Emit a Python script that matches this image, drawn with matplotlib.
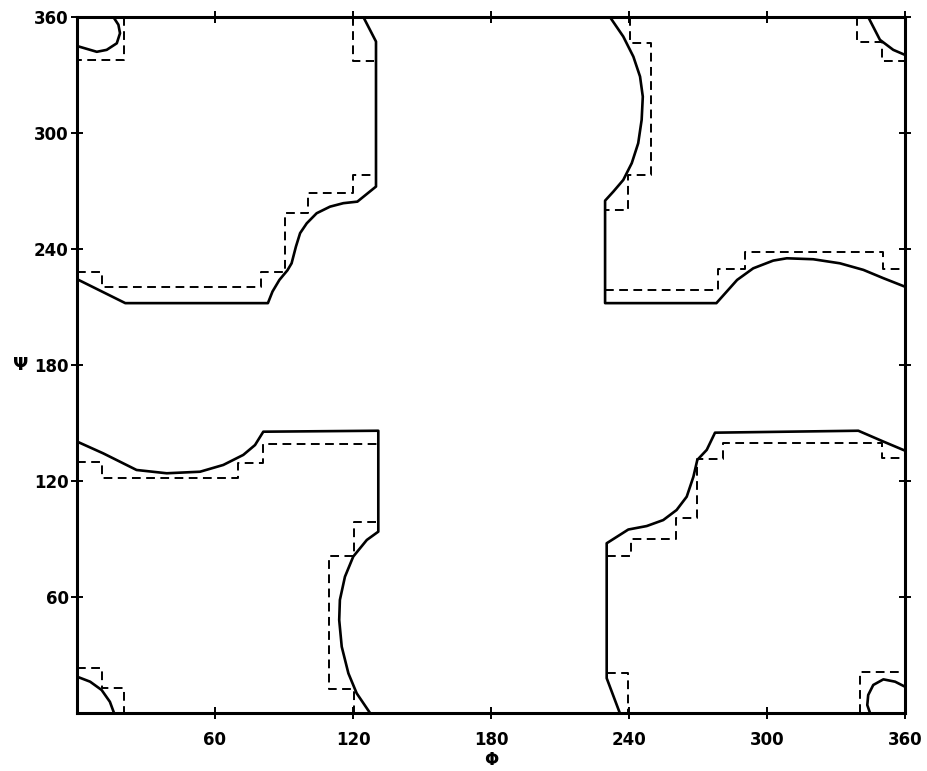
import matplotlib
matplotlib.use("Agg")
import matplotlib.pyplot as plt

# ---------------- data (phi, psi in degrees) ----------------
# solid contours
tl_corner_phi = [0, 8.6, 12.9, 17.3, 18.7, 18, 15.8]
tl_corner_psi = [345, 342, 343, 346.4, 351.6, 356, 360]

tl_main_phi = [0, 21, 83, 85, 88, 91.5, 93.3, 95.2, 97, 99.9, 104.2, 110, 115.8, 121.9, 130, 130, 124.5]
tl_main_psi = [224.4, 212, 212, 218, 224, 229, 232.6, 241.3, 248.2, 253.3, 258.5, 261.9, 263.7, 264.5, 272.3, 347.3, 360]

tr_main_phi = [231.7, 237.5, 241.9, 244.8, 246, 245.5, 244, 241.2, 237.5, 233.2, 229.6, 229.6,
               278, 281, 284, 287, 294, 302.7, 308.6, 320.1, 331.7, 341.9, 350.6, 360]
tr_main_psi = [360, 349.9, 339.5, 329.2, 318.8, 306.8, 294.7, 284.4, 275.7, 269.7, 265, 212,
               212, 216, 220, 224, 230, 234, 235.2, 234.7, 232.6, 229.2, 224.9, 220.5]

tr_corner_phi = [344, 349.1, 354.9, 360]
tr_corner_psi = [360, 348.2, 343, 340.4]

bl_main_phi = [0, 11.4, 25.9, 39, 53.5, 63.6, 72.3, 77.4, 81, 131, 131, 126, 120.1, 116.5,
               114.3, 114, 115.1, 118, 121.6, 127.4]
bl_main_psi = [140.4, 134.3, 125.7, 124, 124.8, 128.3, 133.5, 138.6, 145.5, 146, 93.8, 89.5,
               80.9, 70.5, 58.5, 48.1, 34.3, 20.5, 10.2, 0]

bl_corner_phi = [0, 5.7, 10.7, 14.3, 16.1]
bl_corner_psi = [18.8, 16.2, 11.9, 5.8, 0]

br_main_phi = [236, 230.3, 230.3, 239.7, 247.7, 254.9, 260.7, 265.1, 268, 269.7, 273.8, 277.4,
               339.7, 350.6, 360]
br_main_psi = [0, 18, 87.8, 94.9, 96.7, 99.8, 105, 111.9, 122.2, 130.9, 136.1, 145,
               146, 140.4, 135.7]

br_corner_phi = [360, 355.7, 350.6, 346.2, 344, 343.6, 344.8]
br_corner_psi = [13.6, 16.2, 17.4, 14.5, 9.3, 4.1, 0]

# dashed step boundaries
d_tl_corner_phi = [20.4, 20.4, 0]
d_tl_corner_psi = [360, 338, 338]

d_tl_main_phi = [0, 10.7, 10.7, 80, 80, 90.4, 90.4, 100.6, 100.6, 120.1, 120.1, 130]
d_tl_main_psi = [228.3, 228.3, 220.5, 220.5, 228.3, 228.3, 258.5, 258.5, 268.8, 268.8, 278.3, 278.3]

d_tl_top_phi = [120.1, 120.1, 129]
d_tl_top_psi = [360, 337, 337]

d_tr_left_phi = [240.4, 240.4, 249.4, 249.4, 239.7, 239.7, 229.6]
d_tr_left_psi = [360, 346.4, 346.4, 278.3, 278.3, 260.2, 260.2]

d_tr_bottom_phi = [229.6, 278.5, 278.5, 290.4, 290.4, 350.6, 350.6, 360]
d_tr_bottom_psi = [219, 219, 229.5, 229.5, 238.7, 238.7, 229.5, 229.5]

d_tr_corner_phi = [339, 339, 349.9, 349.9, 360]
d_tr_corner_psi = [360, 347.3, 347.3, 337, 337]

d_bl_top_phi = [0, 10.7, 10.7, 70.1, 70.1, 80.7, 80.7, 131]
d_bl_top_psi = [130, 130, 121.4, 121.4, 129.5, 129.5, 139.3, 139.3]

d_bl_right_phi = [130, 120.4, 120.4, 109.7, 109.7, 120.4, 120.4]
d_bl_right_psi = [99, 99, 81.2, 81.2, 12.3, 12.3, 0]

d_bl_corner_phi = [0, 11, 11, 20.4, 20.4]
d_bl_corner_psi = [23.1, 23.1, 12.8, 12.8, 0]

d_br_main_phi = [230.3, 240.7, 240.7, 260.4, 260.4, 269.7, 269.7, 280.7, 280.7, 349.9, 349.9, 360]
d_br_main_psi = [81.2, 81.2, 89.8, 89.8, 100.7, 100.7, 131.2, 131.2, 139.8, 139.8, 131.7, 131.7]

d_br_bottom_phi = [230.3, 239.7, 239.7]
d_br_bottom_psi = [20.9, 20.9, 0]

d_br_corner_phi = [340.4, 340.4, 360]
d_br_corner_psi = [0, 21.4, 21.4]

x_ticks = [60, 120, 180, 240, 300, 360]
y_ticks = [60, 120, 180, 240, 300, 360]
x_tick_labels = ["60", "120", "180", "240", "300", "360"]
y_tick_labels = ["60", "120", "180", "240", "300", "360"]

solid_curves = [
    (tl_corner_phi, tl_corner_psi), (tl_main_phi, tl_main_psi),
    (tr_main_phi, tr_main_psi), (tr_corner_phi, tr_corner_psi),
    (bl_main_phi, bl_main_psi), (bl_corner_phi, bl_corner_psi),
    (br_main_phi, br_main_psi), (br_corner_phi, br_corner_psi),
]
dashed_curves = [
    (d_tl_corner_phi, d_tl_corner_psi), (d_tl_main_phi, d_tl_main_psi),
    (d_tl_top_phi, d_tl_top_psi), (d_tr_left_phi, d_tr_left_psi),
    (d_tr_bottom_phi, d_tr_bottom_psi), (d_tr_corner_phi, d_tr_corner_psi),
    (d_bl_top_phi, d_bl_top_psi), (d_bl_right_phi, d_bl_right_psi),
    (d_bl_corner_phi, d_bl_corner_psi), (d_br_main_phi, d_br_main_psi),
    (d_br_bottom_phi, d_br_bottom_psi), (d_br_corner_phi, d_br_corner_psi),
]

# ---------------- figure ----------------
fig = plt.figure(figsize=(9.28, 7.71), dpi=100)
ax = fig.add_axes([77 / 928, 58 / 771, 828 / 928, 696 / 771])

for px, py in solid_curves:
    ax.plot(px, py, color="black", lw=1.9, solid_joinstyle="round", solid_capstyle="round")
for px, py in dashed_curves:
    ax.plot(px, py, color="black", lw=1.4, linestyle=(0, (4.5, 2.8)))

ax.set_xlim(0, 360)
ax.set_ylim(0, 360)

ax.set_xticks(x_ticks)
ax.set_xticklabels(x_tick_labels)
ax.set_yticks(y_ticks)
ax.set_yticklabels(y_tick_labels)

ax.tick_params(axis="both", which="major", direction="inout", length=8, width=1.4,
               top=True, right=True, labelsize=12)
ax.tick_params(axis="x", pad=9)
ax.tick_params(axis="y", pad=2)
for lab in ax.get_xticklabels() + ax.get_yticklabels():
    lab.set_fontweight("bold")

for sp in ax.spines.values():
    sp.set_linewidth(2.2)

ax.set_xlabel("Φ", fontsize=12, fontweight="bold", va="center")
ax.xaxis.set_label_coords(0.5, -0.068)
ax.set_ylabel("Ψ", fontsize=13, fontweight="bold", rotation=0, va="center", ha="center")
ax.yaxis.set_label_coords(-0.068, 0.5)

fig.savefig("out.png", dpi=100)
